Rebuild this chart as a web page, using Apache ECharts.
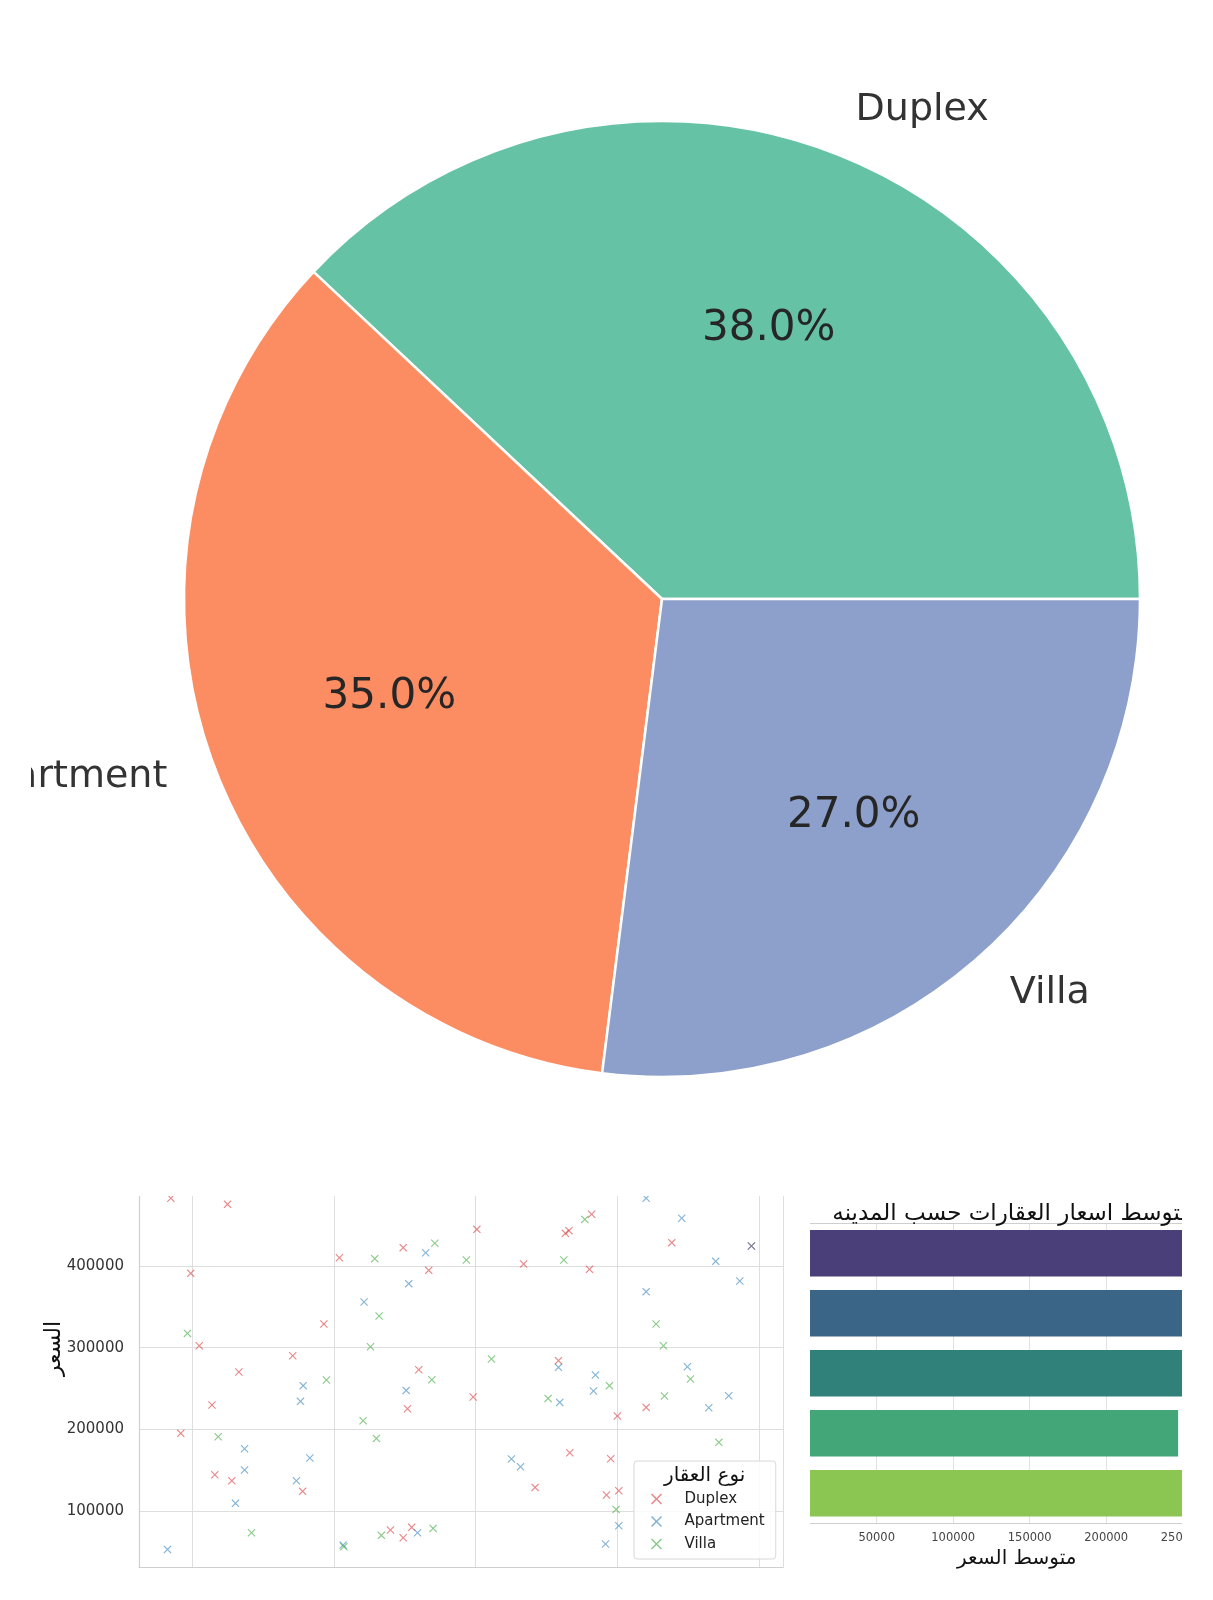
<!DOCTYPE html>
<html>
<head>
<meta charset="utf-8">
<script src="https://cdn.jsdelivr.net/npm/echarts@6/dist/echarts.min.js"></script>
<style>
  html, body { margin: 0; padding: 0; background: #fff; }
  body { width: 1213px; height: 1600px; position: relative; overflow: hidden; }
  #pie { position: absolute; left: 31px; top: 0; width: 1182px; height: 1140px; }
  #scatterWrap { position: absolute; left: 0; top: 1196px; width: 800px; height: 404px; overflow: hidden; }
  #scatter { position: absolute; left: 0; top: -96px; width: 800px; height: 500px; }
  #barWrap { position: absolute; left: 810px; top: 1170px; width: 372px; height: 430px; overflow: hidden; }
  #bar { position: absolute; left: -60px; top: 0; width: 560px; height: 430px; }
</style>
</head>
<body>
<div id="pie"></div>
<div id="scatterWrap"><div id="scatter"></div></div>
<div id="barWrap"><div id="bar"></div></div>
<script>
// pie: share of property types (percent)
var pieNames = ["Duplex", "Apartment", "Villa"];
var pieValues = [38, 35, 27];
var pieColors = ["#66c2a5", "#fc8d62", "#8da0cb"];

// scatter: [area, price]
var duplexPoints = [
    [85, 483000], [125, 475500], [99, 391000], [105, 302400], [133, 270200],
    [114, 229800], [92, 195100], [116, 144500], [128, 137100], [171, 290200],
    [193, 329000], [178, 124100], [204, 410200], [249, 422500], [267, 394700],
    [260, 273000], [252, 225300], [240, 76700], [249, 67300], [255, 80000],
    [301, 444900], [334, 402400], [363.5, 440000], [366, 443300], [382, 463300],
    [380.5, 395900], [438.6, 428600], [494.8, 424500], [358.6, 284100], [298.4, 239600],
    [400.2, 216300], [420.5, 226900], [366.6, 171400], [395.5, 164100], [342.1, 128900],
    [392.5, 119600], [401.2, 124900]
];
var apartmentPoints = [
    [137, 176300], [137, 150200], [130.6, 109400], [82.6, 53000], [178.4, 253500],
    [176.5, 234300], [183.1, 164900], [173.6, 137100], [206.6, 58300], [221.4, 355900],
    [264.9, 416300], [252.9, 378400], [251.1, 247700], [259.1, 73400], [420.5, 482900],
    [445.6, 458400], [469.6, 405700], [494.8, 424500], [486.6, 381600], [420.5, 368600],
    [358.6, 275900], [384.7, 266500], [383.3, 246900], [359.5, 233000], [449.6, 276700],
    [478.8, 241200], [464.7, 226500], [325.4, 163700], [331.8, 154300], [401.2, 82000],
    [391.8, 59600]
];
var villaPoints = [
    [96.7, 317500], [118.4, 191000], [141.9, 73400], [194.8, 260400], [207.1, 56300],
    [228.9, 409000], [232, 338800], [225.9, 301200], [220.7, 210600], [230.1, 188900],
    [271.3, 427800], [269.2, 260800], [233.6, 70200], [270.1, 78700], [293.6, 407300],
    [362.4, 407300], [377.2, 457100], [427.5, 329000], [432.7, 302400], [311.3, 286100],
    [394.6, 253500], [351.3, 237900], [433.4, 240800], [451.8, 261600], [471.8, 184100],
    [399.3, 102000]
];
var scatterColors = ["#d62728", "#1f77b4", "#2ca02c"];

// bar: average price per city (city labels are cut off in the picture)
var cities = ["مدينة 1", "مدينة 2", "مدينة 3", "مدينة 4", "مدينة 5"];
var avgPrices = [268000, 266000, 269000, 247000, 264000];
var barColors = ["#4a3f78", "#3b6587", "#2f8179", "#42a678", "#8bc652"];

var FONT = "DejaVu Sans";
var crossSymbol = "path://M1,0 L5,4 L9,0 L10,1 L6,5 L10,9 L9,10 L5,6 L1,10 L0,9 L4,5 L0,1 Z";
function plain(v) { return String(v); }

// ---------- pie ----------
var R = 478;
var pieData = pieNames.map(function (n, i) {
    return { name: n, value: pieValues[i], itemStyle: { color: pieColors[i] } };
});
echarts.init(document.getElementById("pie")).setOption({
    animation: false,
    series: [
        {
            type: "pie",
            center: [631, 599],
            radius: [0, R],
            startAngle: 0,
            clockwise: false,
            avoidLabelOverlap: false,
            data: pieData,
            itemStyle: { borderColor: "#fff", borderWidth: 2.5 },
            label: {
                position: "outside",
                distanceToLabelLine: 0,
                fontFamily: FONT,
                fontSize: 38,
                color: "#333",
                formatter: "{b}"
            },
            labelLine: { show: false, length: R * 0.1, length2: 0 },
            emphasis: { disabled: true }
        },
        {
            type: "pie",
            center: [631, 599],
            radius: [0, R * 1.2],
            startAngle: 0,
            clockwise: false,
            silent: true,
            data: pieData.map(function (d) {
                return { name: d.name, value: d.value, itemStyle: { color: "rgba(0,0,0,0)" } };
            }),
            label: {
                position: "inside",
                fontFamily: FONT,
                fontSize: 42,
                color: "#262626",
                formatter: function (p) { return p.percent.toFixed(1) + "%"; }
            },
            emphasis: { disabled: true }
        }
    ]
});

// ---------- scatter ----------
function scatterSeries(name, pts, color) {
    return {
        type: "scatter",
        name: name,
        data: pts,
        symbol: crossSymbol,
        symbolSize: 8,
        itemStyle: { color: color, opacity: 0.55 }
    };
}
echarts.init(document.getElementById("scatter")).setOption({
    animation: false,
    grid: { left: 139, top: 29.7, width: 644, height: 437.6 },
    xAxis: {
        type: "value",
        min: 62.5,
        max: 517.1,
        axisLabel: { show: false },
        axisTick: { show: false },
        axisLine: { show: true, lineStyle: { color: "#cfcfcf", width: 1.2 } },
        splitLine: { show: true, lineStyle: { color: "#dedede", width: 1 } }
    },
    yAxis: {
        type: "value",
        min: 31100,
        max: 566900,
        name: "السعر",
        nameLocation: "middle",
        nameGap: 74,
        nameMoveOverlap: false,
        nameTextStyle: { fontFamily: FONT, fontSize: 22, color: "#111" },
        axisLabel: {
            fontFamily: FONT, fontSize: 15, color: "#333", margin: 15,
            showMinLabel: false, showMaxLabel: false, formatter: plain
        },
        axisTick: { show: false },
        axisLine: { show: true, lineStyle: { color: "#cfcfcf", width: 1.2 } },
        splitLine: { show: true, showMaxLine: false, lineStyle: { color: "#dedede", width: 1 } }
    },
    legend: {
        orient: "vertical",
        left: 634,
        top: 361,
        padding: [30, 11, 7, 17],
        itemWidth: 20,
        itemHeight: 11,
        itemGap: 6.5,
        backgroundColor: "rgba(255,255,255,0.85)",
        borderColor: "#d8d8d8",
        borderWidth: 1,
        borderRadius: 3,
        textStyle: { fontFamily: FONT, fontSize: 15, color: "#222", lineHeight: 16, padding: [0, 0, 0, 13] },
        data: pieNames
    },
    graphic: [{
        type: "text",
        z: 100,
        left: 664,
        top: 366,
        style: { text: "نوع العقار", font: "20px 'DejaVu Sans'", fill: "#111" }
    }],
    series: [
        scatterSeries("Duplex", duplexPoints, scatterColors[0]),
        scatterSeries("Apartment", apartmentPoints, scatterColors[1]),
        scatterSeries("Villa", villaPoints, scatterColors[2])
    ]
});

// ---------- bar ----------
echarts.init(document.getElementById("bar")).setOption({
    animation: false,
    title: {
        text: "متوسط اسعار العقارات حسب المدينه",
        left: 257.5,
        top: 28,
        textAlign: "center",
        textStyle: { fontFamily: FONT, fontSize: 23, fontWeight: "normal", color: "#111" }
    },
    grid: { left: 50.2, top: 53.3, width: 433, height: 300 },
    xAxis: [
        {
            type: "value",
            min: 0,
            max: 283000,
            interval: 50000,
            name: "متوسط السعر",
            nameLocation: "middle",
            nameGap: 22,
            nameTextStyle: { fontFamily: FONT, fontSize: 20, color: "#111" },
            axisLabel: { fontFamily: FONT, fontSize: 11.5, color: "#444", margin: 9, showMaxLabel: false, formatter: plain },
            axisTick: { show: false },
            axisLine: { show: true, lineStyle: { color: "#cfcfcf", width: 1.2 } },
            splitLine: { show: true, showMaxLine: false, showMinLine: false, lineStyle: { color: "#e2e2e2" } }
        },
        {
            type: "value",
            position: "top",
            min: 0,
            max: 283000,
            axisLabel: { show: false },
            axisTick: { show: false },
            axisLine: { show: true, lineStyle: { color: "#cfcfcf", width: 1.2 } },
            splitLine: { show: false }
        }
    ],
    yAxis: {
        type: "category",
        inverse: true,
        data: cities,
        axisLabel: { show: false },
        axisTick: { show: false },
        axisLine: { show: false },
        splitLine: { show: false }
    },
    series: [{
        type: "bar",
        barWidth: "77.7%",
        data: avgPrices.map(function (v, i) {
            return { value: v, itemStyle: { color: barColors[i] } };
        })
    }]
});
</script>
</body>
</html>
